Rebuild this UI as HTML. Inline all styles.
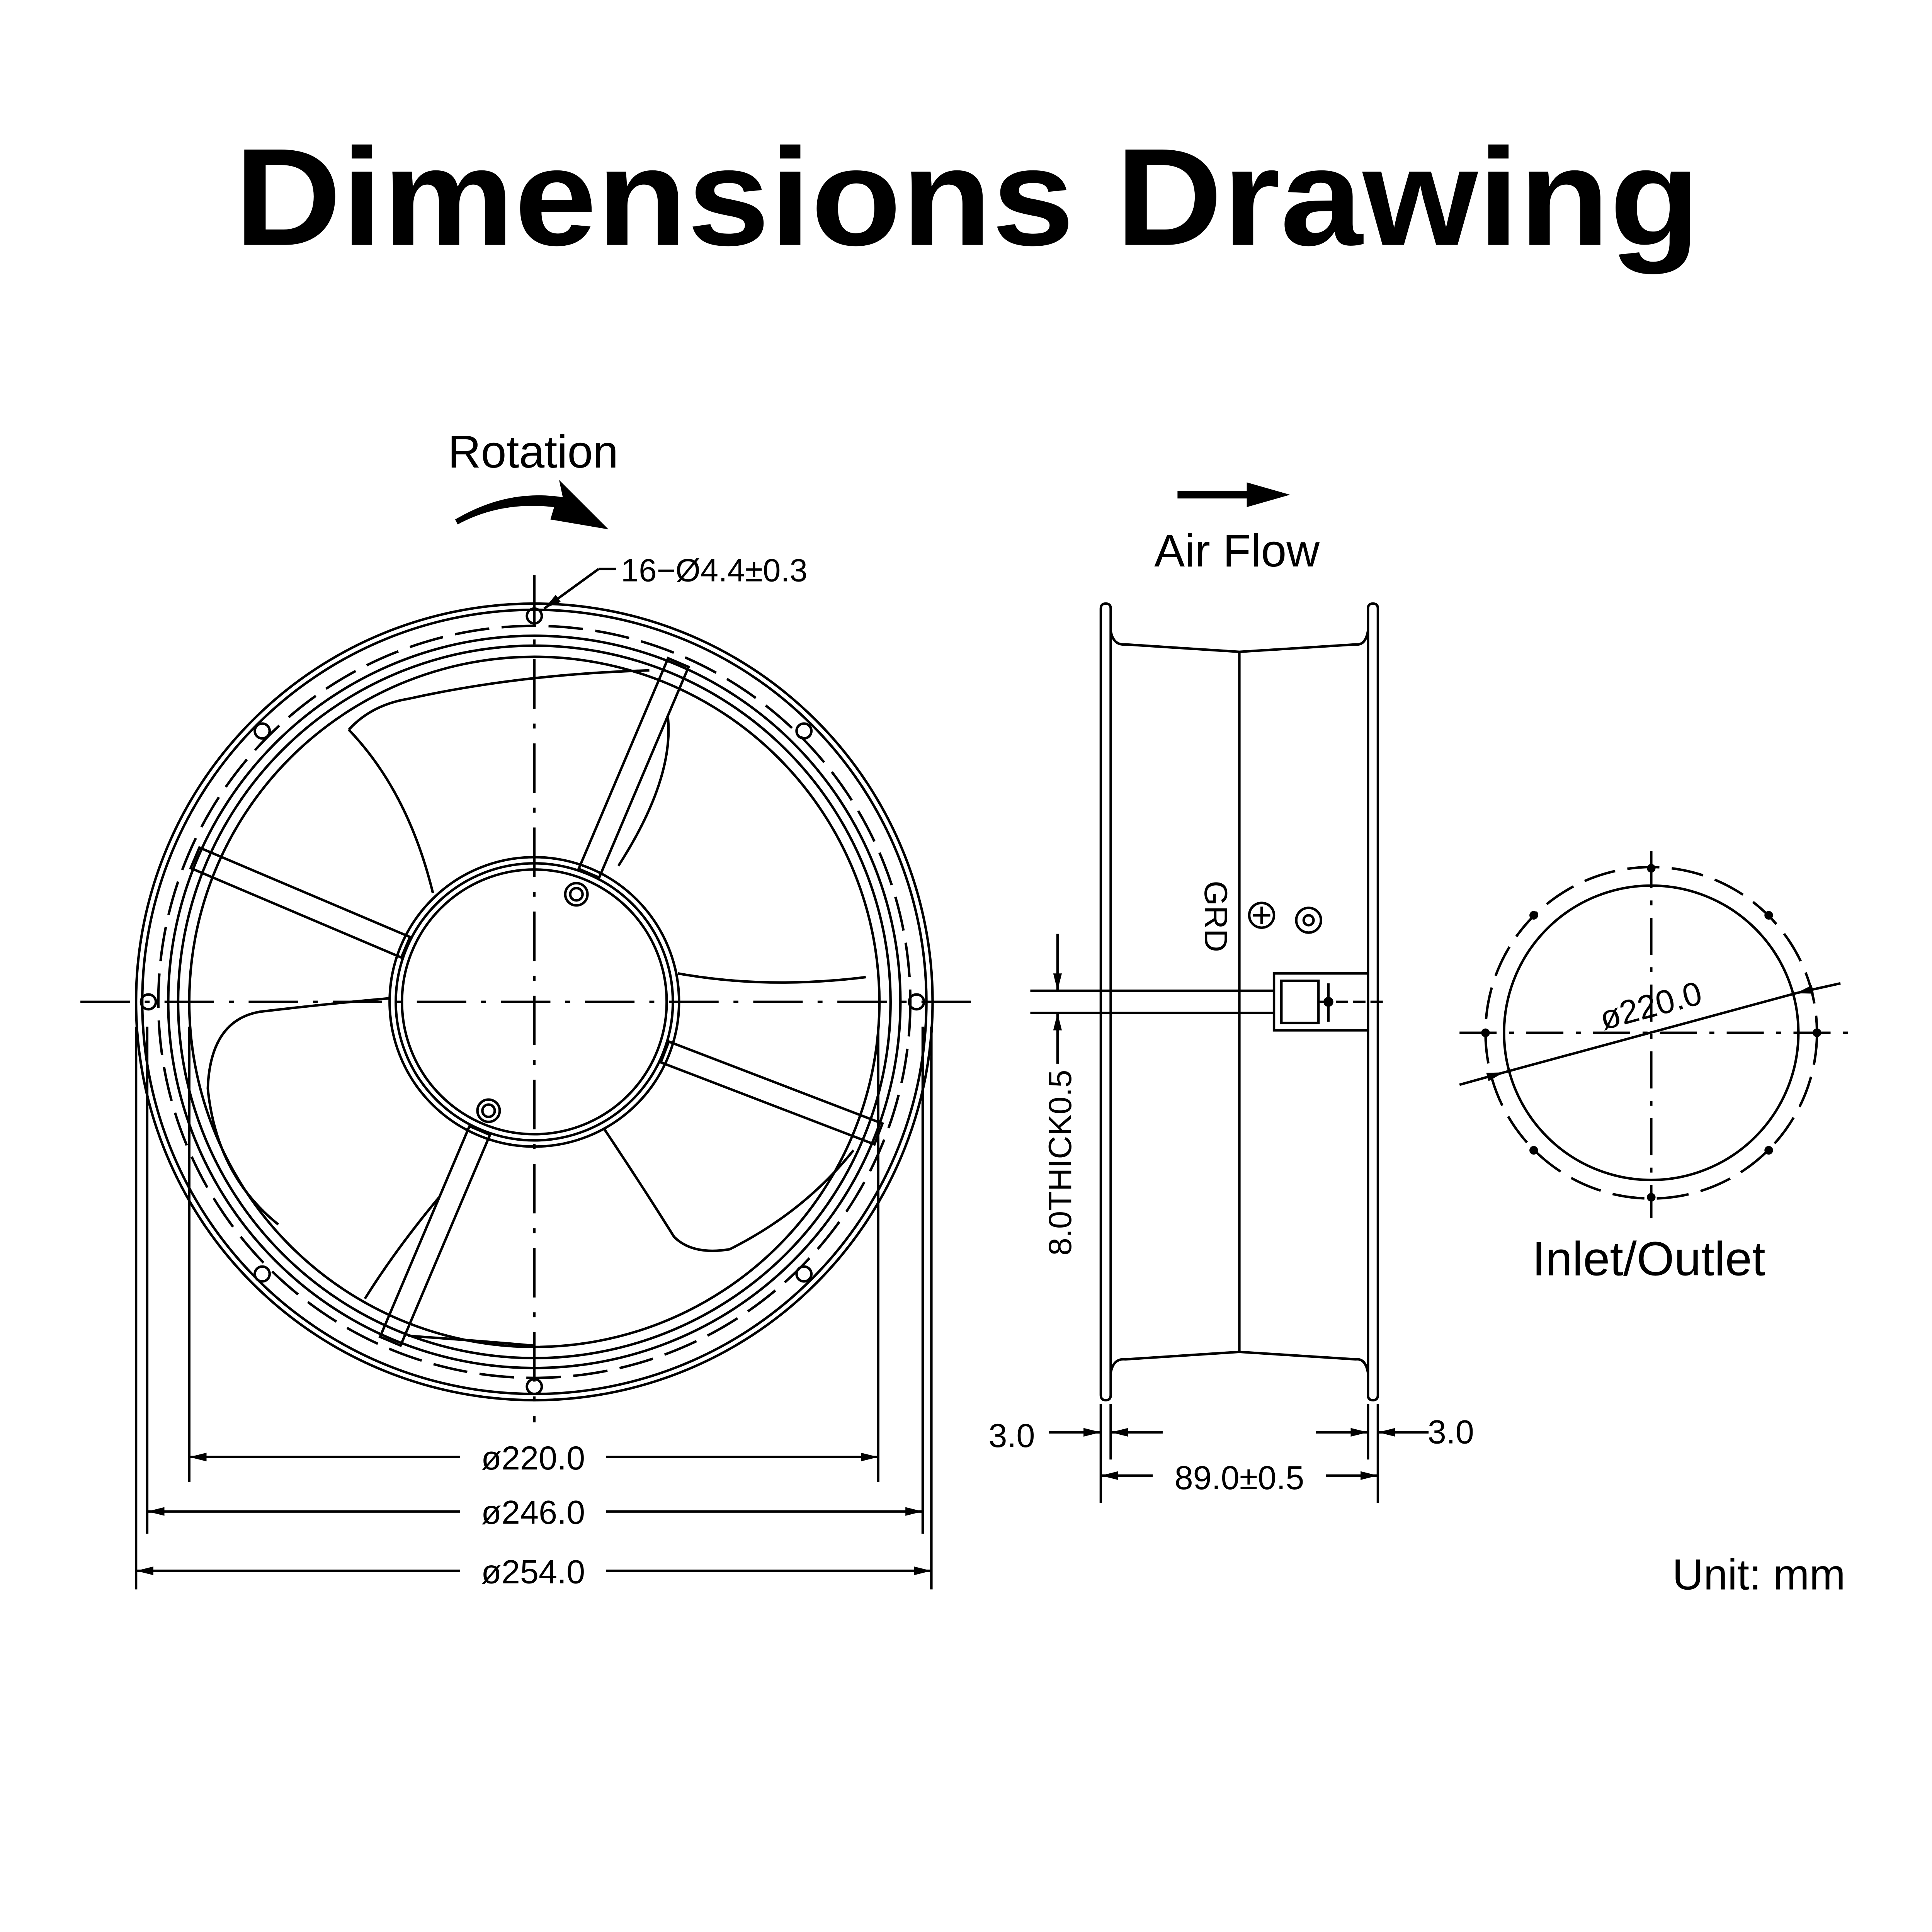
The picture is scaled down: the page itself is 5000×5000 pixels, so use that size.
<!DOCTYPE html>
<html><head><meta charset="utf-8"><style>
html,body{margin:0;padding:0;background:#fff;}
svg{display:block;}
text{font-family:"Liberation Sans",sans-serif;fill:#000;}
</style></head><body>
<svg width="5000" height="5000" viewBox="0 0 1562 1562" xmlns="http://www.w3.org/2000/svg">
<defs>
<marker id="a" viewBox="0 0 10 10" refX="10" refY="5" markerWidth="14" markerHeight="7" markerUnits="userSpaceOnUse" orient="auto-start-reverse" preserveAspectRatio="none"><path d="M0,0 L10,5 L0,10 z" fill="#000"/></marker>
</defs>
<rect width="1562" height="1562" fill="#fff"/>
<text x="782" y="198" font-size="112" font-weight="bold" text-anchor="middle" textLength="1185" lengthAdjust="spacingAndGlyphs">Dimensions Drawing</text>

<!-- Left fan -->
<g fill="none" stroke="#000" stroke-width="2">
<circle cx="432" cy="810" r="322"/>
<circle cx="432" cy="810" r="317"/>
<circle cx="432" cy="810" r="304" stroke-dasharray="28 10"/>
<circle cx="432" cy="810" r="296"/>
<circle cx="432" cy="810" r="288"/>
<circle cx="432" cy="810" r="279"/>
<circle cx="432" cy="810" r="117"/>
<circle cx="432" cy="810" r="112"/>
<circle cx="432" cy="810" r="107"/>
<!-- spokes -->
<g transform="rotate(-67 432 810)"><rect x="545" y="801" width="185" height="18"/></g>
<g transform="rotate(203 432 810)"><rect x="545" y="801" width="185" height="18"/></g>
<g transform="rotate(21 432 810)"><rect x="545" y="801" width="185" height="18"/></g>
<g transform="rotate(113 432 810)"><rect x="545" y="801" width="185" height="18"/></g>
<!-- blades -->
<path d="M282 590 Q300 570 330 565 Q420 545 525 542"/>
<path d="M282 590 Q330 640 350 722"/>
<path d="M540 580 Q545 630 500 700"/>
<path d="M548 787 Q620 800 700 790"/>
<path d="M316 807 Q260 812 210 818 Q170 825 168 880 Q175 950 225 990"/>
<path d="M488 912 Q520 960 545 1000 Q560 1015 590 1010 Q650 980 690 930"/>
<path d="M355 968 Q320 1010 295 1050"/>
<path d="M330 1080 Q400 1085 432 1088"/>
<!-- holes -->
<circle cx="432" cy="498" r="6"/><circle cx="741" cy="810" r="6"/><circle cx="120" cy="810" r="6"/><circle cx="432" cy="1121" r="6"/>
<circle cx="212" cy="591" r="6"/><circle cx="650" cy="591" r="6"/><circle cx="212" cy="1030" r="6"/><circle cx="650" cy="1030" r="6"/>
<circle cx="466" cy="723" r="9"/><circle cx="466" cy="723" r="5"/>
<circle cx="395" cy="898" r="9"/><circle cx="395" cy="898" r="5"/>
<!-- centerlines -->
<line x1="65" y1="810" x2="795" y2="810" stroke-dasharray="40 12 4 12"/>
<line x1="432" y1="465" x2="432" y2="1150" stroke-dasharray="40 12 4 12"/>
<!-- extension lines -->
<line x1="153" y1="830" x2="153" y2="1198"/><line x1="710" y1="830" x2="710" y2="1198"/>
<line x1="119" y1="830" x2="119" y2="1240"/><line x1="746" y1="830" x2="746" y2="1240"/>
<line x1="110" y1="830" x2="110" y2="1285"/><line x1="753" y1="830" x2="753" y2="1285"/>
<line x1="153" y1="1178" x2="372" y2="1178" marker-start="url(#a)"/><line x1="490" y1="1178" x2="710" y2="1178" marker-end="url(#a)"/>
<line x1="119" y1="1222" x2="372" y2="1222" marker-start="url(#a)"/><line x1="490" y1="1222" x2="746" y2="1222" marker-end="url(#a)"/>
<line x1="110" y1="1270" x2="372" y2="1270" marker-start="url(#a)"/><line x1="490" y1="1270" x2="753" y2="1270" marker-end="url(#a)"/>
<!-- leader -->
<polyline points="484,460 498,460"/>
<line x1="484" y1="460" x2="440" y2="492" marker-end="url(#a)"/>
</g>
<text x="431" y="1188" font-size="27" text-anchor="middle">ø220.0</text>
<text x="431" y="1232" font-size="27" text-anchor="middle">ø246.0</text>
<text x="431" y="1280" font-size="27" text-anchor="middle">ø254.0</text>
<text x="502" y="470" font-size="26">16−Ø4.4±0.3</text>
<text x="431" y="378" font-size="37" text-anchor="middle">Rotation</text>
<path d="M368 420 Q410 395 455 402 L452 388 L492 428 L445 420 L448 410 Q405 405 370 424 z" fill="#000"/>

<!-- Side view -->
<text x="1000" y="458" font-size="37" text-anchor="middle">Air Flow</text>
<line x1="952" y1="400" x2="1012" y2="400" stroke="#000" stroke-width="6"/>
<path d="M1008 390 L1043 400 L1008 410 z" fill="#000"/>
<g fill="none" stroke="#000" stroke-width="2">
<path d="M890 492 Q890 488 894 488 Q898 488 898 492 L898 1128 Q898 1132 894 1132 Q890 1132 890 1128 z"/>
<path d="M1106 492 Q1106 488 1110 488 Q1114 488 1114 492 L1114 1128 Q1114 1132 1110 1132 Q1106 1132 1106 1128 z"/>
<path d="M898 510 Q900 522 910 521 L1002 527 L1096 521 Q1104 522 1106 510"/>
<path d="M898 1110 Q900 1098 910 1099 L1002 1093 L1096 1099 Q1104 1098 1106 1110"/>
<line x1="1002" y1="527" x2="1002" y2="1093"/>
<circle cx="1020" cy="740" r="10"/><line x1="1013" y1="740" x2="1027" y2="740"/><line x1="1020" y1="733" x2="1020" y2="747"/>
<circle cx="1058" cy="744" r="10"/><circle cx="1058" cy="744" r="4"/>
<rect x="1030" y="787" width="76" height="46"/>
<rect x="1036" y="793" width="30" height="34"/>
<line x1="833" y1="801" x2="1030" y2="801"/><line x1="833" y1="819" x2="1030" y2="819"/>
<line x1="1066" y1="810" x2="1118" y2="810" stroke-dasharray="10 4"/>
<line x1="1074" y1="795" x2="1074" y2="826"/>
<line x1="855" y1="755" x2="855" y2="801" marker-end="url(#a)"/>
<line x1="855" y1="860" x2="855" y2="819" marker-end="url(#a)"/>
<line x1="890" y1="1135" x2="890" y2="1215"/><line x1="898" y1="1135" x2="898" y2="1180"/>
<line x1="1106" y1="1135" x2="1106" y2="1180"/><line x1="1114" y1="1135" x2="1114" y2="1215"/>
<line x1="848" y1="1158" x2="890" y2="1158" marker-end="url(#a)"/><line x1="940" y1="1158" x2="898" y2="1158" marker-end="url(#a)"/>
<line x1="1064" y1="1158" x2="1106" y2="1158" marker-end="url(#a)"/><line x1="1155" y1="1158" x2="1114" y2="1158" marker-end="url(#a)"/>
<line x1="932" y1="1193" x2="890" y2="1193" marker-end="url(#a)"/><line x1="1072" y1="1193" x2="1114" y2="1193" marker-end="url(#a)"/>
</g>
<circle cx="1074" cy="810" r="4" fill="#000"/>
<text x="0" y="0" font-size="26" transform="translate(974,712) rotate(90)">GRD</text>
<text x="0" y="0" font-size="26" text-anchor="middle" transform="translate(866,940) rotate(-90)">8.0THICK0.5</text>
<text x="818" y="1170" font-size="27" text-anchor="middle">3.0</text>
<text x="1173" y="1167" font-size="27" text-anchor="middle">3.0</text>
<text x="1002" y="1204" font-size="27" text-anchor="middle">89.0±0.5</text>

<!-- Right view -->
<g fill="none" stroke="#000" stroke-width="2">
<circle cx="1335" cy="835" r="119"/>
<circle cx="1335" cy="835" r="134" stroke-dasharray="26 10"/>
<line x1="1180" y1="835" x2="1495" y2="835" stroke-dasharray="30 10 4 10"/>
<line x1="1335" y1="688" x2="1335" y2="985" stroke-dasharray="30 10 4 10"/>
<line x1="1180" y1="877" x2="1216" y2="867" marker-end="url(#a)"/>
<line x1="1216" y1="867" x2="1452" y2="803"/>
<line x1="1488" y1="795" x2="1452" y2="803" marker-end="url(#a)"/>
</g>
<g fill="#000">
<circle cx="1335" cy="702" r="3.5"/><circle cx="1240" cy="740" r="3.5"/><circle cx="1430" cy="740" r="3.5"/>
<circle cx="1201" cy="835" r="3.5"/><circle cx="1469" cy="835" r="3.5"/><circle cx="1240" cy="930" r="3.5"/>
<circle cx="1430" cy="930" r="3.5"/><circle cx="1335" cy="968" r="3.5"/>
</g>
<text x="0" y="0" font-size="27" text-anchor="middle" transform="translate(1337,822) rotate(-15)">ø220.0</text>
<text x="1333" y="1031" font-size="39" text-anchor="middle">Inlet/Outlet</text>
<text x="1422" y="1285" font-size="35" text-anchor="middle">Unit: mm</text>
</svg>
</body></html>
